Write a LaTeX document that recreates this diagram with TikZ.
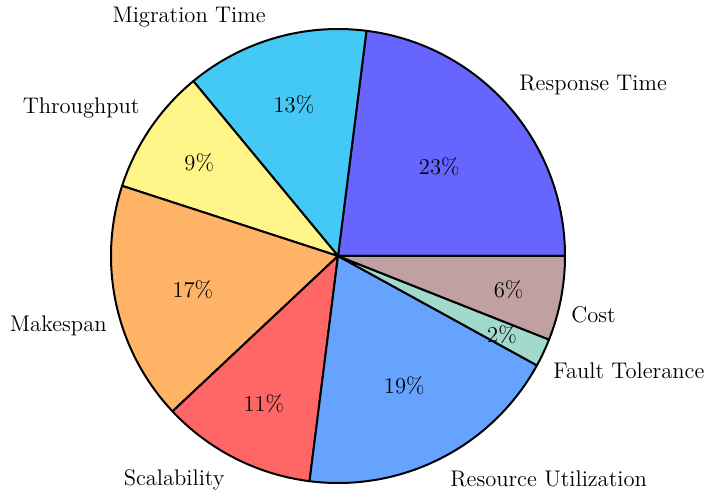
\documentclass[tikz,border=0pt]{standalone}
\usetikzlibrary{calc}
\begin{document}
\begin{tikzpicture}[x=0.5pt,y=0.5pt,
  slice/.style={draw=black,line width=1pt,line join=round},
  lbl/.style={font=\fontsize{11.3}{13}\selectfont,inner sep=0pt},
  pct/.style={font=\fontsize{11.3}{13}\selectfont,inner sep=0pt}]
\definecolor{cResp}{HTML}{6666FF}
\definecolor{cMig}{HTML}{44C8F5}
\definecolor{cThr}{HTML}{FFF588}
\definecolor{cMak}{HTML}{FFB366}
\definecolor{cSca}{HTML}{FF6666}
\definecolor{cRes}{HTML}{66A3FF}
\definecolor{cFau}{HTML}{A1DACD}
\definecolor{cCos}{HTML}{C0A0A0}
\useasboundingbox (0,0) rectangle (706,-496);
\coordinate (C) at (338,-256);
\def\R{227}
\foreach \a/\b/\c in {0/82.8/cResp,82.8/129.6/cMig,129.6/162/cThr,162/223.2/cMak,223.2/262.8/cSca,262.8/331.2/cRes,331.2/338.4/cFau,338.4/360/cCos}{
  \filldraw[slice,fill=\c] (C) -- ++(\a:\R) arc[start angle=\a,end angle=\b,radius=\R] -- cycle;
}
% percentages
\node[pct] (p1) at ($(C)+(41.4:135)$) {23\%};
\node[pct] (p2) at ($(C)+(106.2:158)$) {13\%};
\node[pct] (p3) at ($(C)+(146.2:167)$) {9\%};
\node[pct] (p4) at ($(C)+(193:149)$) {17\%};
\node[pct] (p5) at ($(C)+(243.3:165)$) {11\%};
\node[pct] (p6) at ($(C)+(297:146)$) {19\%};
\node[pct] (p7) at ($(C)+(334.3:182)$) {2\%};
\node[pct] (p8) at ($(C)+(348.7:174)$) {6\%};
% labels
\node[lbl,anchor=base west] (l1) at (519,-91) {Response Time};
\node[lbl,anchor=base east] (l2) at (266,-23) {Migration Time};
\node[lbl,anchor=base east] (l3) at (140,-114) {Throughput};
\node[lbl,anchor=base east] (l4) at (107,-332) {Makespan};
\node[lbl,anchor=base east] (l5) at (225,-485) {Scalability};
\node[lbl,anchor=base west] (l6) at (450,-486) {Resource Utilization};
\node[lbl,anchor=base west] (l7) at (553,-379) {Fault Tolerance};
\node[lbl,anchor=base west] (l8) at (571,-323) {Cost};
\end{tikzpicture}
\end{document}
